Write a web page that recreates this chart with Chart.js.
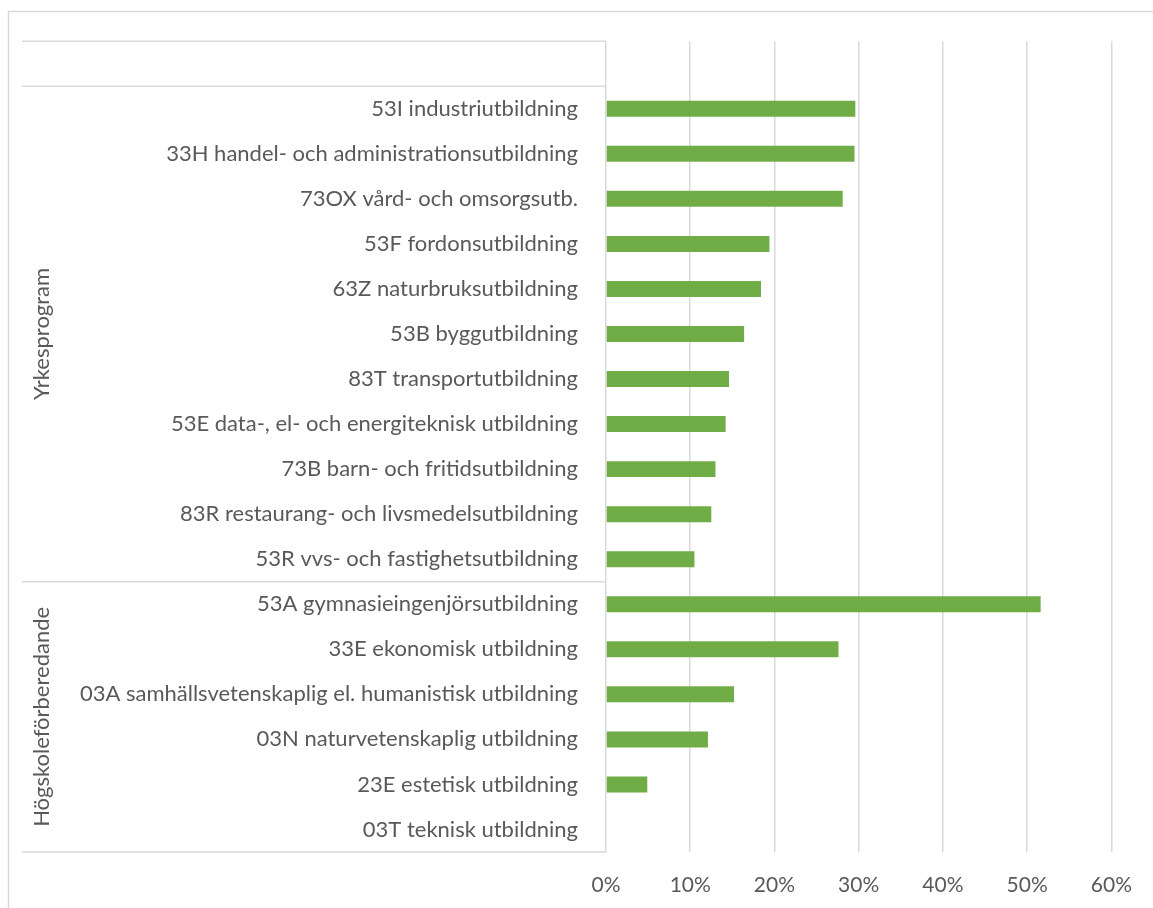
<!DOCTYPE html>
<html>
<head>
<meta charset="utf-8">
<script src="https://cdn.jsdelivr.net/npm/chart.js@4"></script>
<style>
  html, body { margin: 0; padding: 0; background: #fff; }
  canvas { display: block; }
</style>
</head>
<body>
<canvas id="chart" width="1153" height="908"></canvas>
<script>
// first row is the empty header row of the table
const categories = [
    '',
    '53I industriutbildning',
    '33H handel- och administrationsutbildning',
    '73OX vård- och omsorgsutb.',
    '53F fordonsutbildning',
    '63Z naturbruksutbildning',
    '53B byggutbildning',
    '83T transportutbildning',
    '53E data-, el- och energiteknisk utbildning',
    '73B barn- och fritidsutbildning',
    '83R restaurang- och livsmedelsutbildning',
    '53R vvs- och fastighetsutbildning',
    '53A gymnasieingenjörsutbildning',
    '33E ekonomisk utbildning',
    '03A samhällsvetenskaplig el. humanistisk utbildning',
    '03N naturvetenskaplig utbildning',
    '23E estetisk utbildning',
    '03T teknisk utbildning'
];
const values = [null, 29.6, 29.5, 28.1, 19.4, 18.4, 16.4, 14.6, 14.2, 13.0, 12.5, 10.5, 51.6, 27.6, 15.2, 12.1, 4.9, 0];
const groupNames = ['Yrkesprogram', 'Högskoleförberedande'];
const groupSizes = [11, 6];
const xTicks = [0, 10, 20, 30, 40, 50, 60];

const FONT = 'Lato, "Open Sans", sans-serif';
const TEXT = '#595959';
const LINE = '#d9d9d9';

// table lines, group labels and the outer frame
const tablePlugin = {
    id: 'table',
    beforeDraw(chart) {
        const ctx = chart.ctx;
        ctx.save();
        ctx.strokeStyle = LINE;
        ctx.lineWidth = 1.5;
        ctx.strokeRect(8.5, 11.5, 1200, 1000);
        ctx.restore();
    },
    afterDraw(chart) {
        const ctx = chart.ctx;
        const y = chart.scales.y;
        const area = chart.chartArea;
        const half = (y.getPixelForValue(1) - y.getPixelForValue(0)) / 2;
        const edge = i => y.getPixelForValue(i) - half;

        // row boundaries: top, after header row, between groups, bottom
        const bounds = [1];
        let idx = 1;
        groupSizes.forEach(n => { idx += n; bounds.push(idx); });
        const lines = [area.top].concat(bounds.map(b => b >= categories.length ? area.bottom : edge(b)));

        ctx.save();
        ctx.strokeStyle = LINE;
        ctx.lineWidth = 1.5;
        lines.forEach(py => {
            ctx.beginPath();
            ctx.moveTo(22, py);
            ctx.lineTo(area.left, py);
            ctx.stroke();
        });

        ctx.fillStyle = TEXT;
        ctx.font = '22px ' + FONT;
        ctx.textAlign = 'center';
        ctx.textBaseline = 'middle';
        groupNames.forEach((name, g) => {
            const cy = (lines[g + 1] + lines[g + 2]) / 2;
            ctx.save();
            ctx.translate(42, cy);
            ctx.rotate(-Math.PI / 2);
            ctx.fillText(name, 0, 0);
            ctx.restore();
        });
        ctx.restore();
    }
};

new Chart(document.getElementById('chart'), {
    type: 'bar',
    data: {
        labels: categories,
        datasets: [{
            data: values,
            backgroundColor: '#70ad47',
            barPercentage: 0.355,
            categoryPercentage: 1
        }]
    },
    options: {
        indexAxis: 'y',
        responsive: false,
        animation: false,
        devicePixelRatio: 1,
        layout: { padding: { top: 40, right: 41, left: 0, bottom: 0 } },
        plugins: {
            legend: { display: false },
            tooltip: { enabled: false }
        },
        scales: {
            x: {
                min: 0,
                max: 60,
                afterBuildTicks: scale => { scale.ticks = xTicks.map(v => ({ value: v })); },
                afterFit: scale => { scale.height = 56; },
                grid: { color: LINE, lineWidth: 1.5, drawTicks: false },
                border: { display: false },
                ticks: {
                    padding: 21,
                    color: TEXT,
                    font: { family: FONT, size: 21 },
                    callback: v => v + '%'
                }
            },
            y: {
                afterFit: scale => { scale.width = 606; },
                grid: { display: false, drawTicks: false },
                border: { display: false },
                ticks: {
                    autoSkip: false,
                    padding: 28,
                    color: TEXT,
                    font: { family: FONT, size: 22 }
                }
            }
        }
    },
    plugins: [tablePlugin]
});
</script>
</body>
</html>
